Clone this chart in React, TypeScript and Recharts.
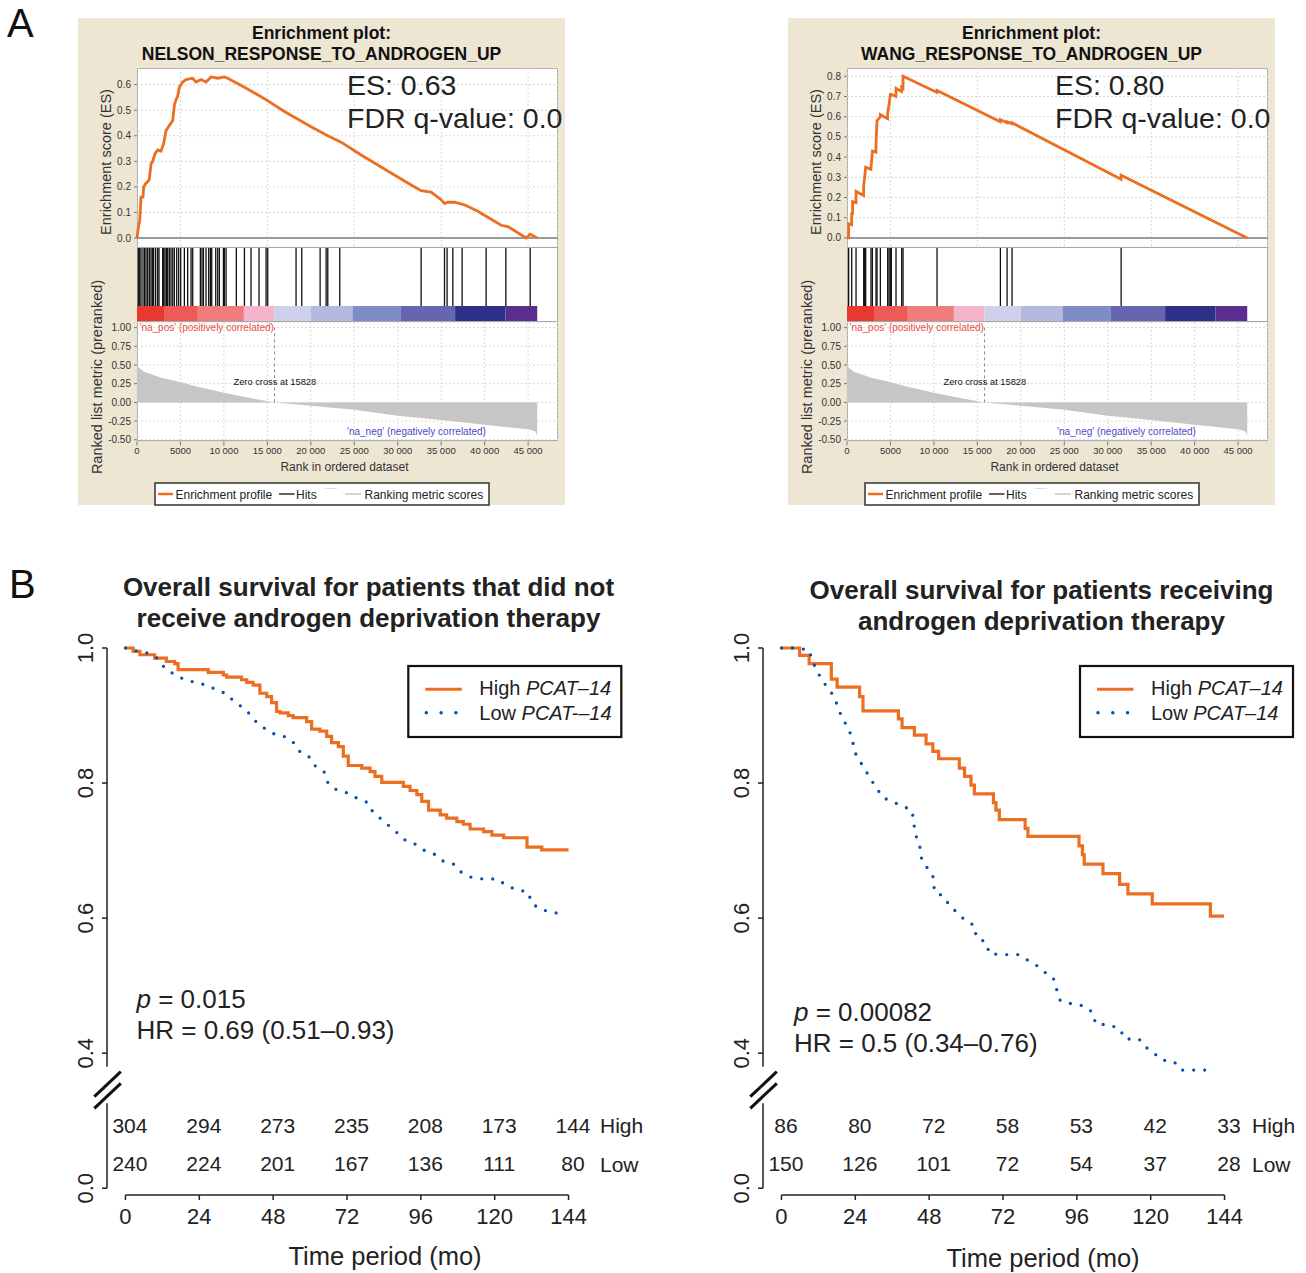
import { ComposedChart, Line, Area, Scatter, XAxis, YAxis, CartesianGrid, ReferenceLine, ReferenceArea } from 'recharts';

const FONT = "'Liberation Sans', Arial, Helvetica, sans-serif";
const ORANGE = '#EC6E20';
const BLUE = '#0A4FA6';
const INK = '#222';
const BEIGE = '#EDE6D3';

// ---------- A: GSEA enrichment plots ----------
const rankTicks = [0, 5000, 10000, 15000, 20000, 25000, 30000, 35000, 40000, 45000];
const rankMax = 48440;
const zeroCross = 15828;
const nelsonTicks = [0, 0.1, 0.2, 0.3, 0.4, 0.5, 0.6];
const wangTicks = [0, 0.1, 0.2, 0.3, 0.4, 0.5, 0.6, 0.7, 0.8];
const metricTicks = [-0.5, -0.25, 0, 0.25, 0.5, 0.75, 1];

// running enrichment score [rank, ES]
const nelsonEs: [number, number][] = [
  [0, 0], [190, 0.05], [310, 0.065], [460, 0.16], [690, 0.16], [770, 0.2], [1040, 0.215], [1230, 0.22],
  [1420, 0.23], [1610, 0.29], [1800, 0.3], [2070, 0.33], [2380, 0.345], [2760, 0.34], [3070, 0.37],
  [3340, 0.42], [3720, 0.44], [4110, 0.46], [4300, 0.52], [4490, 0.54], [4680, 0.555], [4870, 0.59],
  [5260, 0.61], [5640, 0.62], [6410, 0.625], [6790, 0.61], [7370, 0.62], [7940, 0.61], [8520, 0.63],
  [9290, 0.625], [10050, 0.63], [10440, 0.625], [12360, 0.59], [14660, 0.545], [16960, 0.495],
  [20030, 0.435], [21950, 0.4], [23480, 0.375], [25790, 0.325], [28470, 0.27], [31160, 0.215],
  [32690, 0.185], [33840, 0.18], [34990, 0.15], [35380, 0.135], [35760, 0.14], [36530, 0.14],
  [37680, 0.13], [39210, 0.105], [40170, 0.085], [41900, 0.05], [42670, 0.045], [44780, 0.0],
  [45240, 0.015], [46040, 0.0],
];
const wangEs: [number, number][] = [
  [0, 0], [180, 0], [190, 0.07], [530, 0.065], [540, 0.12], [640, 0.12], [650, 0.18], [1030, 0.175],
  [1040, 0.23], [1910, 0.21], [1920, 0.26], [2030, 0.3], [2150, 0.35], [2750, 0.34], [2920, 0.43],
  [3330, 0.425], [3340, 0.47], [3450, 0.58], [3830, 0.6], [3840, 0.61], [4670, 0.59], [4680, 0.62],
  [4840, 0.66], [4990, 0.71], [5100, 0.71], [5630, 0.7], [5640, 0.74], [6280, 0.725], [6290, 0.745],
  [6440, 0.74], [6450, 0.8], [10350, 0.72], [10360, 0.73], [17640, 0.575], [17650, 0.585],
  [18410, 0.57], [18420, 0.575], [18980, 0.565], [18990, 0.57], [31530, 0.29], [31540, 0.31],
  [46050, 0.0],
];

// gene-set members along the ranked list
const nelsonHits = [
  150, 310, 460, 690, 880, 1040, 1230, 1420, 1610, 1770, 1920, 2150, 2380, 2530, 2950, 3070, 3220,
  3380, 3530, 3720, 3910, 4110, 4300, 4570, 4800, 5030, 5450, 5830, 6220, 6410, 7290, 7480, 7640,
  7940, 8250, 8440, 8600, 9060, 9290, 9480, 9940, 10050, 10250, 11430, 12360, 13120, 14040, 14850,
  15040, 18300, 18960, 21070, 21760, 21950, 23330, 32690, 35380, 35680, 36340, 37410, 40170, 42440,
  45240,
];
const wangHits = [
  190, 540, 1040, 1920, 2030, 2150, 2760, 2920, 3340, 3450, 3840, 4680, 4840, 4990, 5100, 5640,
  6290, 6450, 10360, 17650, 18420, 18990, 31540,
];

// ranked list metric [rank, score]
const rankedMetric: [number, number][] = [
  [0, 0.52], [150, 0.47], [800, 0.41], [2800, 0.33], [4700, 0.28], [7000, 0.21], [10000, 0.13],
  [13000, 0.06], [15828, 0], [20000, -0.045], [25000, -0.1], [30000, -0.178], [35000, -0.236],
  [40000, -0.3], [45000, -0.36], [45800, -0.385], [46050, -0.44],
];

// heat bar [from rank, to rank, colour]
const heatSegments: [number, number, string][] = [
  [0, 3200, '#E8392F'], [3200, 7000, '#EE5B56'], [7000, 12300, '#F07C7E'], [12300, 15800, '#F4B5CC'],
  [15800, 20000, '#CDD2EA'], [20000, 24800, '#B5B9DE'], [24800, 30300, '#7E8CC8'],
  [30300, 36600, '#6665B0'], [36600, 42400, '#2E3189'], [42400, 46050, '#5A2E8F'],
];

// ---------- B: Kaplan-Meier ----------
const timeTicks = [0, 24, 48, 72, 96, 120, 144];
const survTicks = [0.2, 0.4, 0.6, 0.8, 1.0]; // 0.2 is labelled "0.0" below the axis break

const noAdtHigh: [number, number][] = [
  [0, 1], [2.5, 0.995], [4.7, 0.99], [9.5, 0.985], [13.3, 0.98], [16, 0.977], [17.1, 0.968],
  [26.9, 0.964], [31.8, 0.96], [32.9, 0.957], [37.7, 0.953], [39.4, 0.949], [41.5, 0.945],
  [43.7, 0.933], [45.9, 0.928], [47.5, 0.919], [49.1, 0.906], [50.2, 0.904], [52.9, 0.9],
  [54.5, 0.897], [58.9, 0.891], [60.5, 0.88], [63.2, 0.877], [65.4, 0.869], [67, 0.86],
  [69.2, 0.854], [70.8, 0.84], [72.4, 0.826], [76.8, 0.822], [79.5, 0.817], [81.1, 0.81],
  [83.3, 0.801], [90.3, 0.795], [92.5, 0.789], [94.7, 0.783], [96.3, 0.773], [98.5, 0.76],
  [102.3, 0.753], [104.4, 0.748], [107.7, 0.743], [109.8, 0.739], [112, 0.732], [116.4, 0.728],
  [119.1, 0.723], [122.9, 0.719], [130.5, 0.705], [135.3, 0.701], [144, 0.701],
];
const noAdtLow: [number, number][] = [
  [0, 1], [4.1, 0.995], [7.7, 0.992], [10.6, 0.984], [12.8, 0.97], [15.5, 0.962], [18.8, 0.954],
  [22.6, 0.949], [26.4, 0.945], [29.6, 0.938], [32.9, 0.932], [35.2, 0.921], [38.1, 0.912],
  [40.7, 0.901], [42.6, 0.89], [45.5, 0.88], [48.6, 0.872], [52.4, 0.868], [55.1, 0.858],
  [56.9, 0.845], [60, 0.838], [61.9, 0.824], [64.7, 0.816], [65.9, 0.799], [68.6, 0.79],
  [72.4, 0.785], [75.4, 0.777], [78.8, 0.771], [80.4, 0.757], [83, 0.747], [85.6, 0.737],
  [88.1, 0.727], [90.7, 0.716], [94, 0.71], [96.8, 0.701], [100.3, 0.695], [102.9, 0.685],
  [106.6, 0.68], [108.8, 0.669], [112, 0.661], [116.1, 0.658], [120.7, 0.658], [123.7, 0.649],
  [127, 0.642], [130.8, 0.639], [132.1, 0.622], [134.8, 0.613], [138.6, 0.609], [142.6, 0.605],
];
const adtHigh: [number, number][] = [
  [0, 1], [5.9, 0.989], [9, 0.977], [16.2, 0.954], [18.1, 0.942], [25.4, 0.928], [26.5, 0.907],
  [38, 0.895], [39.2, 0.882], [43.2, 0.871], [47, 0.858], [49.2, 0.847], [51.1, 0.836],
  [57.8, 0.822], [59.5, 0.81], [61.6, 0.797], [62.7, 0.784], [68.9, 0.771], [69.7, 0.76],
  [70.8, 0.746], [79.2, 0.733], [80.1, 0.721], [96.7, 0.707], [97.8, 0.694], [98.4, 0.68],
  [104.5, 0.666], [109.9, 0.65], [112.6, 0.636], [120.5, 0.621], [139.4, 0.603], [143.8, 0.603],
];
const adtLow: [number, number][] = [
  [0, 1], [4.9, 1], [9, 0.997], [10.1, 0.98], [11.7, 0.965], [13.3, 0.951], [15.5, 0.939],
  [17.3, 0.926], [18.5, 0.91], [20, 0.894], [21.8, 0.881], [23, 0.865], [23.8, 0.846],
  [25.4, 0.833], [27.3, 0.819], [29.1, 0.805], [30.9, 0.793], [32.8, 0.779], [36.1, 0.772],
  [39.5, 0.766], [42.5, 0.759], [43, 0.74], [43.8, 0.721], [45, 0.705], [45.6, 0.686],
  [47.6, 0.673], [49.4, 0.66], [49.7, 0.639], [52.9, 0.632], [54.6, 0.618], [57.2, 0.608],
  [59.6, 0.597], [62.7, 0.589], [63.3, 0.572], [66.5, 0.564], [67.6, 0.547], [72.1, 0.546],
  [76.9, 0.546], [79.9, 0.538], [82.9, 0.53], [85.5, 0.52], [88.3, 0.512], [89.4, 0.495],
  [90.6, 0.478], [94.3, 0.473], [98.3, 0.47], [101, 0.461], [102.2, 0.443], [106.5, 0.442],
  [110, 0.436], [111.6, 0.421], [116.2, 0.421], [118.4, 0.409], [121.1, 0.4], [123.6, 0.39],
  [127.7, 0.387], [129.8, 0.375], [134.6, 0.375], [139.3, 0.375],
];

// numbers at risk
const noAdtRiskHigh = [304, 294, 273, 235, 208, 173, 144];
const noAdtRiskLow = [240, 224, 201, 167, 136, 111, 80];
const adtRiskHigh = [86, 80, 72, 58, 53, 42, 33];
const adtRiskLow = [150, 126, 101, 72, 54, 37, 28];

const RISK_ROW_HIGH = 0.293;
const RISK_ROW_LOW = 0.236;

const fmtRank = (v: number) => (v === 0 ? '0' : v < 10000 ? String(v) : `${v / 1000} 000`);

const HitMark = (props: any) => (
  <line x1={props.cx} x2={props.cx} y1={props.cy - 29.5} y2={props.cy + 29.5} stroke="#111" strokeWidth={1.3} />
);
const NoMark = () => <g />;

function GseaPanel({ dx, name, es, esDomain, esTicks, esValue, esX, hits }: any) {
  const esData = es.map(([rank, v]: [number, number]) => ({ rank, es: v }));
  const hitData = hits.map((rank: number) => ({ rank, hit: 0.5 }));
  const heatData = heatSegments.map(([a]) => ({ rank: a, hit: 0.5 }));
  const metricData = rankedMetric.map(([rank, v]) => ({ rank, metric: v }));
  const tickStyle = { fontSize: 10, fill: '#333', fontFamily: FONT };
  return (
    <>
      <div style={{ position: 'absolute', left: 78 + dx, top: 18, width: 487, height: 487, background: BEIGE }} />
      <div style={{ position: 'absolute', left: 137 + dx, top: 68, width: 421, height: 373, background: '#fff', boxSizing: 'border-box', border: '1px solid #A8A8A8' }} />
      <div style={{ position: 'absolute', left: 137 + dx, top: 246.5, width: 421, height: 1, background: '#A8A8A8' }} />
      <div style={{ position: 'absolute', left: 137 + dx, top: 321, width: 421, height: 1, background: '#A8A8A8' }} />

      <div style={{ position: 'absolute', left: 78 + dx, top: 68 }}>
        <ComposedChart width={480} height={179} data={esData} margin={{ top: 0, right: 0, bottom: 0, left: 0 }}>
          <CartesianGrid strokeDasharray="2 2" stroke="#D8D8D8" />
          <XAxis dataKey="rank" type="number" domain={[0, rankMax]} ticks={rankTicks} hide />
          <YAxis type="number" domain={esDomain} ticks={esTicks} interval={0} width={59} tickSize={3} tickMargin={3}
            axisLine={false} tick={tickStyle} tickLine={{ stroke: '#777' }} tickFormatter={(v: number) => v.toFixed(1)} />
          <ReferenceLine y={0} stroke="#9A9A9A" strokeWidth={2} />
          <Line dataKey="es" type="linear" stroke={ORANGE} strokeWidth={2.8} dot={false} isAnimationActive={false} />
        </ComposedChart>
      </div>

      <div style={{ position: 'absolute', left: 78 + dx, top: 247.5 }}>
        <ComposedChart width={480} height={59} data={hitData} margin={{ top: 0, right: 0, bottom: 0, left: 59 }}>
          <XAxis dataKey="rank" type="number" domain={[0, rankMax]} allowDataOverflow hide />
          <YAxis type="number" domain={[0, 1]} allowDataOverflow hide />
          <Scatter dataKey="hit" shape={HitMark} isAnimationActive={false} />
        </ComposedChart>
      </div>

      <div style={{ position: 'absolute', left: 78 + dx, top: 306 }}>
        <ComposedChart width={480} height={15} data={heatData} margin={{ top: 0, right: 0, bottom: 0, left: 59 }}>
          <XAxis dataKey="rank" type="number" domain={[0, rankMax]} allowDataOverflow hide />
          <YAxis type="number" domain={[0, 1]} allowDataOverflow hide />
          {heatSegments.map(([a, b, c]) => (
            <ReferenceArea key={a} x1={a} x2={b} y1={0} y2={1} fill={c} fillOpacity={1} stroke="none" />
          ))}
          <Scatter dataKey="hit" shape={NoMark} isAnimationActive={false} />
        </ComposedChart>
      </div>

      <div style={{ position: 'absolute', left: 78 + dx, top: 321.5 }}>
        <ComposedChart width={480} height={139.5} data={metricData} margin={{ top: 0, right: 0, bottom: 0, left: 0 }}>
          <CartesianGrid strokeDasharray="2 2" stroke="#D8D8D8" />
          <XAxis dataKey="rank" type="number" domain={[0, rankMax]} ticks={rankTicks} interval={0} tickFormatter={fmtRank}
            height={20} tickSize={4} tickMargin={2} axisLine={false} tick={{ ...tickStyle, fontSize: 9.5 }} tickLine={{ stroke: '#777' }} />
          <YAxis type="number" domain={[-0.523, 1.075]} ticks={metricTicks} interval={0} width={59} tickSize={3} tickMargin={3}
            axisLine={false} tick={tickStyle} tickLine={{ stroke: '#777' }} tickFormatter={(v: number) => v.toFixed(2)} />
          <Area dataKey="metric" type="linear" fill="#C6C6C6" fillOpacity={1} stroke="none" baseValue={0} isAnimationActive={false} />
          <ReferenceLine segment={[{ x: zeroCross, y: 0 }, { x: zeroCross, y: 1 }]} stroke="#8A8A8A" strokeDasharray="3 3" ifOverflow="visible" />
        </ComposedChart>
      </div>

      <svg style={{ position: 'absolute', left: 0, top: 0, pointerEvents: 'none' }} width={1306} height={520} fontFamily={FONT}>
        <g transform={`translate(${dx},0)`}>
          <text x={321.5} y={38.5} textAnchor="middle" fontSize={17.5} fontWeight="bold" fill="#111">Enrichment plot:</text>
          <text x={321.5} y={59.5} textAnchor="middle" fontSize={17.5} fontWeight="bold" fill="#111">{name}</text>
          <text x={esX} y={94.5} fontSize={28.5} fill={INK}>ES: {esValue}</text>
          <text x={esX} y={128} fontSize={28.5} fill={INK}>FDR q-value: 0.0</text>
          <text x={110.5} y={162} transform="rotate(-90 110.5 162)" textAnchor="middle" fontSize={14.5} fill="#333">Enrichment score (ES)</text>
          <text x={102} y={377} transform="rotate(-90 102 377)" textAnchor="middle" fontSize={14.5} fill="#333">Ranked list metric (preranked)</text>
          <text x={344.5} y={471} textAnchor="middle" fontSize={12} fill="#333">Rank in ordered dataset</text>
          <text x={139.5} y={330.5} fontSize={10} fill="#EE4B3B">'na_pos' (positively correlated)</text>
          <text x={233.5} y={385} fontSize={9.3} fill="#111">Zero cross at {zeroCross}</text>
          <text x={347} y={435} fontSize={10} fill="#4B4BC8">'na_neg' (negatively correlated)</text>
          <rect x={155} y={483} width={334} height={22} fill="#fff" stroke="#333" strokeWidth={1.5} />
          <line x1={158} x2={173} y1={494} y2={494} stroke={ORANGE} strokeWidth={2.5} />
          <text x={175.5} y={498.5} fontSize={12} fill="#222">Enrichment profile</text>
          <line x1={279} x2={294.5} y1={494} y2={494} stroke="#111" strokeWidth={1.3} />
          <text x={296} y={498.5} fontSize={12} fill="#222">Hits</text>
          <line x1={325} x2={337} y1={488.5} y2={488.5} stroke="#DDD" strokeWidth={1} />
          <line x1={345} x2={361} y1={494} y2={494} stroke="#C6C6C6" strokeWidth={1.5} />
          <text x={364.5} y={498.5} fontSize={12} fill="#222">Ranking metric scores</text>
        </g>
      </svg>
    </>
  );
}

const SurvTick = (props: any) => {
  const { x, y, payload } = props;
  const label = payload.value < 0.3 ? '0.0' : payload.value.toFixed(1);
  return (
    <text x={x} y={y} transform={`rotate(-90 ${x} ${y})`} textAnchor="middle" fontSize={22} fill={INK} fontFamily={FONT}>
      {label}
    </text>
  );
};

const RiskText = (props: any) => (
  <text x={props.cx + 4.5} y={props.cy} textAnchor="middle" dominantBaseline="central" fontSize={21} fill={INK} fontFamily={FONT}>
    {props.payload.n}
  </text>
);

function KmChart({ left, high, low, riskHigh, riskLow }: any) {
  const highData = high.map(([t, s]: [number, number]) => ({ t, s }));
  const lowData = low.map(([t, s]: [number, number]) => ({ t, s }));
  const riskData = [
    ...riskHigh.map((n: number, i: number) => ({ t: timeTicks[i], y: RISK_ROW_HIGH, n })),
    ...riskLow.map((n: number, i: number) => ({ t: timeTicks[i], y: RISK_ROW_LOW, n })),
  ];
  const axisStroke = { stroke: INK, strokeWidth: 1.5 };
  return (
    <div style={{ position: 'absolute', left, top: 618 }}>
      <ComposedChart width={560} height={615} margin={{ top: 30, right: 40, bottom: 0, left: 0 }}>
        <XAxis dataKey="t" type="number" domain={[-6, 150]} ticks={timeTicks} interval={0} axisLine={false} height={38}
          tickSize={5} tickMargin={8} tick={{ fontSize: 22, fill: INK, fontFamily: FONT }} tickLine={axisStroke} />
        <YAxis type="number" domain={[0.19, 1]} ticks={survTicks} interval={0} axisLine={false} width={40}
          tickSize={5} tickMargin={9} tick={<SurvTick />} tickLine={axisStroke} />
        <ReferenceLine segment={[{ x: 0, y: 0.19 }, { x: 144, y: 0.19 }]} {...axisStroke} ifOverflow="visible" />
        <ReferenceLine segment={[{ x: -6, y: 1 }, { x: -6, y: 0.38 }]} {...axisStroke} ifOverflow="visible" />
        <ReferenceLine segment={[{ x: -6, y: 0.326 }, { x: -6, y: 0.2 }]} {...axisStroke} ifOverflow="visible" />
        <Line data={highData} dataKey="s" type="stepAfter" stroke={ORANGE} strokeWidth={3.2} dot={false} isAnimationActive={false} />
        <Line data={lowData} dataKey="s" type="linear" stroke={BLUE} strokeWidth={3.3} strokeDasharray="0 11"
          strokeLinecap="round" dot={false} isAnimationActive={false} />
        <Scatter data={riskData} dataKey="y" shape={RiskText} isAnimationActive={false} />
      </ComposedChart>
    </div>
  );
}

function KmLegend({ x, lowLabel }: { x: number; lowLabel: string }) {
  return (
    <g>
      <rect x={x} y={666} width={213} height={71} fill="#fff" stroke="#111" strokeWidth={2.2} />
      <line x1={x + 17} x2={x + 53.5} y1={689.3} y2={689.3} stroke={ORANGE} strokeWidth={3} />
      <text x={x + 71} y={695} fontSize={20} fill={INK}>High <tspan fontStyle="italic">PCAT–14</tspan></text>
      <line x1={x + 18} x2={x + 48} y1={712.7} y2={712.7} stroke={BLUE} strokeWidth={3.5} strokeDasharray="0 14.8" strokeLinecap="round" />
      <text x={x + 71} y={720} fontSize={20} fill={INK}>Low <tspan fontStyle="italic">{lowLabel}</tspan></text>
    </g>
  );
}

function BreakMarks({ axisX }: { axisX: number }) {
  return (
    <g stroke="#111" strokeWidth={3}>
      <line x1={axisX - 13} y1={1096.7} x2={axisX + 13.5} y2={1071.7} />
      <line x1={axisX - 13} y1={1108.3} x2={axisX + 13.5} y2={1083.3} />
    </g>
  );
}

export default function App() {
  return (
    <div style={{ position: 'absolute', left: 0, top: 0, width: 1306, height: 1273, background: '#fff', fontFamily: FONT, overflow: 'hidden' }}>
      <GseaPanel dx={0} name="NELSON_RESPONSE_TO_ANDROGEN_UP" es={nelsonEs} esDomain={[-0.035, 0.665]} esTicks={nelsonTicks} esValue="0.63" esX={347} hits={nelsonHits} />
      <GseaPanel dx={710} name="WANG_RESPONSE_TO_ANDROGEN_UP" es={wangEs} esDomain={[-0.045, 0.841]} esTicks={wangTicks} esValue="0.80" esX={345} hits={wangHits} />

      <KmChart left={67.3} high={noAdtHigh} low={noAdtLow} riskHigh={noAdtRiskHigh} riskLow={noAdtRiskLow} />
      <KmChart left={723.3} high={adtHigh} low={adtLow} riskHigh={adtRiskHigh} riskLow={adtRiskLow} />

      <svg style={{ position: 'absolute', left: 0, top: 0, pointerEvents: 'none' }} width={1306} height={1273} fontFamily={FONT}>
        <text x={7} y={37} fontSize={40} fill="#111">A</text>
        <text x={9} y={598} fontSize={40} fill="#111">B</text>

        <text x={368.5} y={596} textAnchor="middle" fontSize={26} fontWeight="bold" fill={INK}>Overall survival for patients that did not</text>
        <text x={368.5} y={627} textAnchor="middle" fontSize={26} fontWeight="bold" fill={INK}>receive androgen deprivation therapy</text>
        <text x={1041.5} y={599} textAnchor="middle" fontSize={26} fontWeight="bold" fill={INK}>Overall survival for patients receiving</text>
        <text x={1041.5} y={630} textAnchor="middle" fontSize={26} fontWeight="bold" fill={INK}>androgen deprivation therapy</text>

        <KmLegend x={408.3} lowLabel="PCAT-–14" />
        <KmLegend x={1080} lowLabel="PCAT–14" />

        <text x={136.5} y={1008} fontSize={26} fill={INK}><tspan fontStyle="italic">p</tspan> = 0.015</text>
        <text x={136.5} y={1039} fontSize={26} fill={INK}>HR = 0.69 (0.51–0.93)</text>
        <text x={794} y={1021} fontSize={26} fill={INK}><tspan fontStyle="italic">p</tspan> = 0.00082</text>
        <text x={794} y={1052} fontSize={26} fill={INK}>HR = 0.5 (0.34–0.76)</text>

        <text x={600} y={1133} fontSize={21} fill={INK}>High</text>
        <text x={600} y={1171.5} fontSize={21} fill={INK}>Low</text>
        <text x={1252} y={1133} fontSize={21} fill={INK}>High</text>
        <text x={1252} y={1171.5} fontSize={21} fill={INK}>Low</text>

        <text x={385} y={1265} textAnchor="middle" fontSize={25.5} fill={INK}>Time period (mo)</text>
        <text x={1043} y={1267} textAnchor="middle" fontSize={25.5} fill={INK}>Time period (mo)</text>

        <BreakMarks axisX={107.3} />
        <BreakMarks axisX={763.3} />
      </svg>
    </div>
  );
}
